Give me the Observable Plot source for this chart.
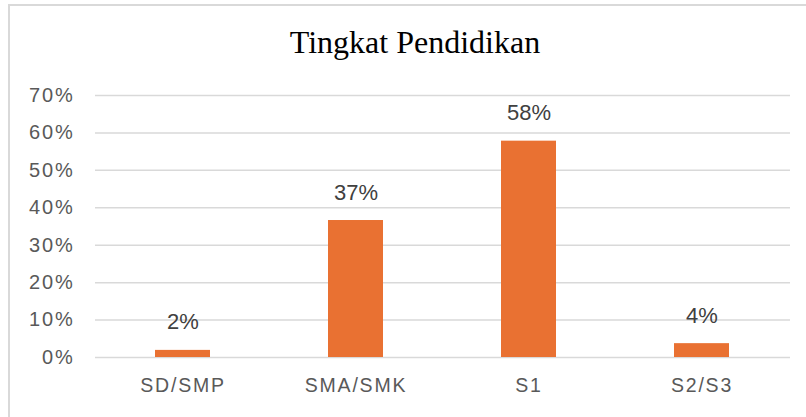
<!DOCTYPE html>
<html>
<head>
<meta charset="utf-8">
<script src="https://cdn.jsdelivr.net/npm/d3@7"></script>
<script src="https://cdn.jsdelivr.net/npm/@observablehq/plot@0.6"></script>
<style>
  html, body { margin: 0; padding: 0; background: #fff; }
  #wrap { position: relative; width: 806px; height: 417px; overflow: hidden; background: #fff; }
  #frame { position: absolute; left: 8px; top: 4px; width: 820px; height: 440px; border-left: 2px solid #d9d9d9; border-top: 2px solid #d9d9d9; box-sizing: border-box; }
  #title { position: absolute; left: 0; width: 830px; top: 24px; text-align: center; font-family: "Liberation Serif", "Times New Roman", serif; font-size: 32px; color: #000; }
  #chart { position: absolute; left: 0; top: 0; }
  #chart svg g[aria-label="y-axis tick label"] text,
  #chart svg g[aria-label="x-axis tick label"] text { letter-spacing: 1.8px; }
</style>
</head>
<body>
<div id="wrap">
  <div id="frame"></div>
  <div id="chart"></div>
  <div id="title">Tingkat Pendidikan</div>
</div>
<script>
const categories = ["SD/SMP", "SMA/SMK", "S1", "S2/S3"];
const values = [0.019, 0.366, 0.578, 0.037];
const labels = ["2%", "37%", "58%", "4%"];
const yTicks = [0, 0.1, 0.2, 0.3, 0.4, 0.5, 0.6, 0.7];

const data = categories.map((c, i) => ({cat: c, value: values[i], label: labels[i]}));

const chart = Plot.plot({
  width: 806,
  height: 417,
  marginLeft: 95,
  marginRight: 16,
  marginTop: 95,
  marginBottom: 60,
  style: {background: "transparent", fontFamily: "'Liberation Sans', Arial, sans-serif"},
  x: {domain: categories, paddingInner: 0.68, paddingOuter: 0.34, label: null},
  y: {domain: [0, 0.7], label: null},
  marks: [
    Plot.gridY(yTicks, {stroke: "#d9d9d9", strokeOpacity: 1, strokeWidth: 1.5}),
    Plot.axisY(yTicks, {tickSize: 0, tickPadding: 21, fontSize: 20, fill: "#595959", tickFormat: d3.format(".0%"), label: null}),
    Plot.axisX({tickSize: 0, tickPadding: 21, fontSize: 19.5, fill: "#595959", label: null}),
    Plot.barY(data, {x: "cat", y: "value", fill: "#E97132"}),
    Plot.text(data, {x: "cat", y: "value", text: "label", dy: -28, fontSize: 22, fill: "#404040"})
  ]
});
document.getElementById("chart").appendChild(chart);
</script>
</body>
</html>
